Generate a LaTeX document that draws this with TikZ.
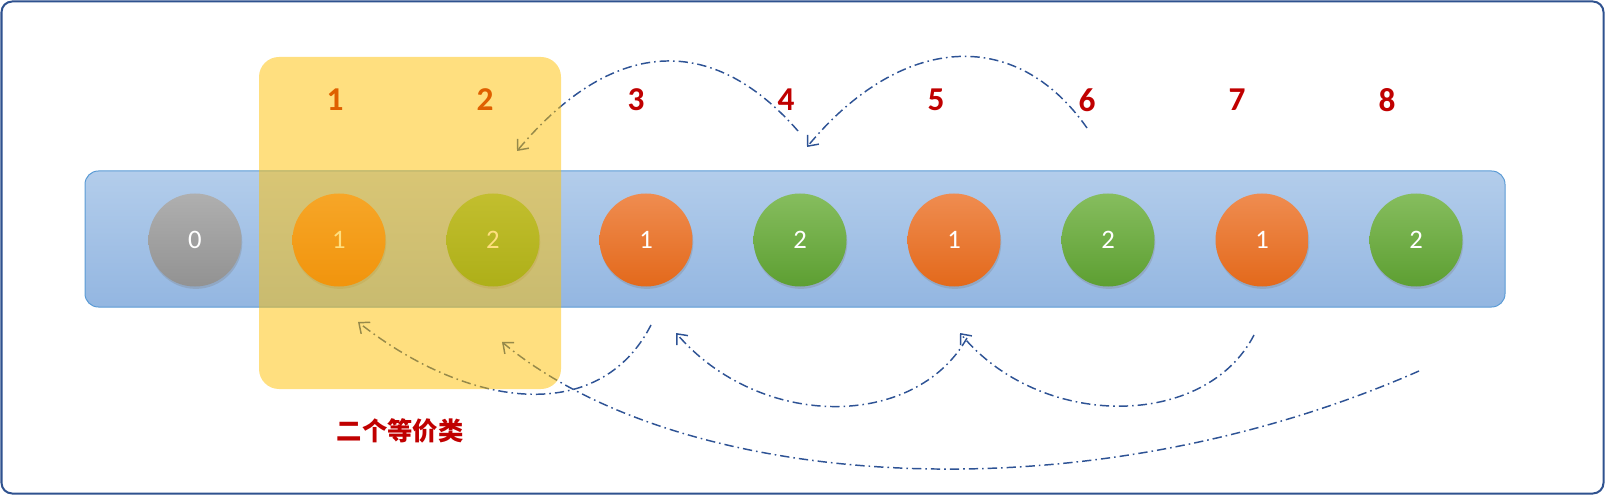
\documentclass[tikz,border=0pt]{standalone}
\usepackage{fontspec}
\setmainfont{Carlito}
\newfontfamily\cjk{Noto Sans CJK SC}
\usepackage{tikz}
\usetikzlibrary{arrows.meta,shadows}
\definecolor{frameBlue}{HTML}{2F528F}
\definecolor{barTop}{HTML}{B3CDEB}
\definecolor{barBot}{HTML}{93B6E1}
\definecolor{barEdge}{HTML}{5B9BD5}
\definecolor{numRed}{HTML}{C00000}
\definecolor{arcBlue}{HTML}{2E5395}
\definecolor{boxYellow}{HTML}{FFC000}
\definecolor{greyTop}{HTML}{AFAFAF}
\definecolor{greyBot}{HTML}{929292}
\definecolor{orangeTop}{HTML}{EF8C50}
\definecolor{orangeBot}{HTML}{E3691B}
\definecolor{greenTop}{HTML}{86BD5E}
\definecolor{greenBot}{HTML}{5D9F32}
\tikzset{
  ball/.style={circle,minimum size=69.75pt,inner sep=0pt,text=white,font=\fontsize{20}{20}\selectfont,
    drop shadow={opacity=0.3,shadow xshift=0.6pt,shadow yshift=-1.8pt}},
  num/.style={text=numRed,font=\fontsize{25}{25}\selectfont\bfseries},
  arc/.style={arcBlue,line width=1.1pt,dash pattern=on 7pt off 3pt on 1.2pt off 3pt,
    -{Straight Barb[length=6.5pt,width=11pt,line width=1.1pt]}}
}

\begin{document}
\begin{tikzpicture}[x=0.75pt,y=-0.75pt]
\useasboundingbox (0,0) rectangle (1605,495);
% bar with the balls
\node[rounded corners=10pt,minimum width=1065pt,minimum height=102pt,draw=barEdge,line width=0.75pt,
  top color=barTop,bottom color=barBot] (bar) at (795,239) {};
\foreach \x/\v/\c [count=\i] in {195/0/grey,339/1/orange,493/2/green,646/1/orange,800/2/green,
    954/1/orange,1108/2/green,1262/1/orange,1416/2/green}
  \node[ball,top color=\c Top,bottom color=\c Bot] (c\i) at (\x,240) {\v};
\foreach \x [count=\i] in {335,485,636,786,936,1087,1237,1387}
  \node[num] (n\i) at (\x,100) {\i};
% arrow ends
\coordinate (s1) at (798,131);  \coordinate (e1) at (517,151);
\coordinate (s2) at (1087,128); \coordinate (e2) at (807,147);
\coordinate (s3) at (651,325);  \coordinate (e3) at (358,322);
\coordinate (s4) at (967,338);  \coordinate (e4) at (676,333);
\coordinate (s5) at (1254,335); \coordinate (e5) at (960,333);
\coordinate (s6) at (1419,371); \coordinate (e6) at (502,342);
\draw[arc] (s1) .. controls (710,30) and (610,40) .. (e1);
\draw[arc] (s2) .. controls (1015,25) and (900,35) .. (e2);
\draw[arc] (s3) .. controls (600,425) and (470,410) .. (e3);
\draw[arc] (s4) .. controls (915,430) and (760,430) .. (e4);
\draw[arc] (s5) .. controls (1205,430) and (1040,430) .. (e5);
\draw[arc] (s6) .. controls (1080,520) and (680,490) .. (e6);
% the class box
\fill[boxYellow,fill opacity=0.5,rounded corners=15pt] (259,57) rectangle (561,389);
\node[text=numRed,font=\cjk\bfseries\fontsize{19}{19}\selectfont] (cls) at (400,431) {二个等价类};
\draw[frameBlue,line width=1.5pt,rounded corners=8pt] (1.5,1.5) rectangle (1603.5,493.5);
\end{tikzpicture}
\end{document}
